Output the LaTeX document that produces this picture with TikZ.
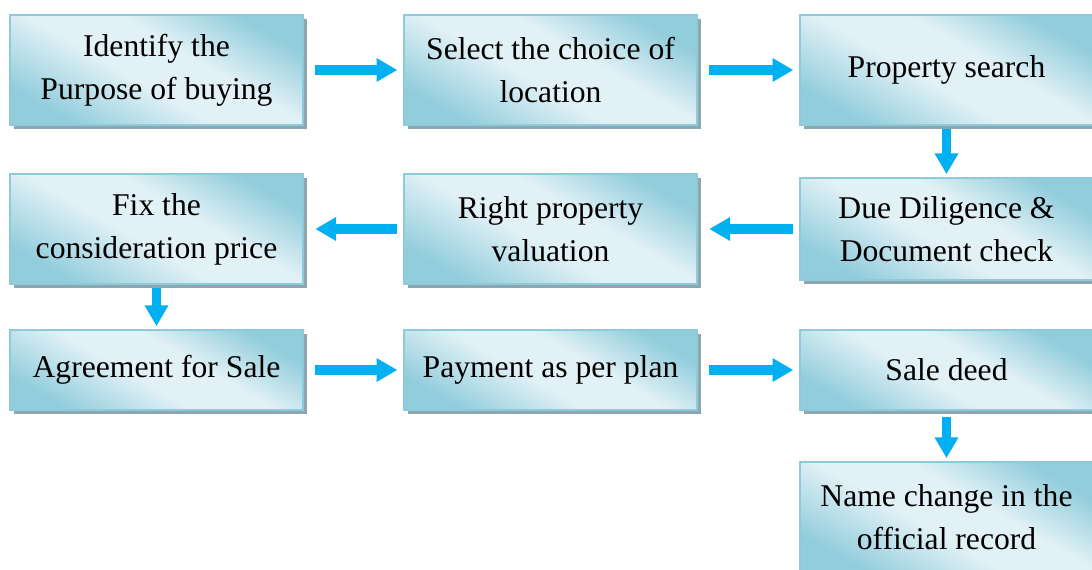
\documentclass[tikz,border=0pt]{standalone}
\usepackage{fontspec}
\setmainfont{Liberation Serif}
\usepackage{tikz}
\usetikzlibrary{arrows.meta,shadows}
\definecolor{boxdark}{HTML}{92CDDC}
\definecolor{boxlight}{HTML}{E2F1F6}
\definecolor{boxline}{HTML}{8CCBDC}
\definecolor{shadowgray}{HTML}{8EA6B0}
\definecolor{arrowblue}{HTML}{00B0F0}
\pgfdeclarehorizontalshading{boxshade}{100bp}{color(0bp)=(boxdark); color(25bp)=(boxdark); color(45bp)=(boxlight); color(58bp)=(boxlight); color(75bp)=(boxdark); color(100bp)=(boxdark)}
\tikzstyle{stage}=[rectangle, draw=boxline, line width=0.05cm, shading=boxshade, shading angle=60, minimum width=7.325cm, minimum height=2.75cm, align=center, font=\fontsize{22.5}{30.5}\selectfont, drop shadow={shadow xshift=0.09cm, shadow yshift=-0.09cm, opacity=1, fill=shadowgray}]
\tikzstyle{flow}=[draw=arrowblue, line width=0.24cm, -{Triangle[width=0.56cm, length=0.52cm]}]

\begin{document}
\begin{tikzpicture}[x=0.025cm, y=-0.025cm]
	\useasboundingbox (0,0) rectangle (1092,570);
	\node[stage] (b1) at (156.5,70){Identify the\\Purpose of buying};
	\node[stage] (b2) at (550.5,70){Select the choice of\\location};
	\node[stage] (b3) at (946.5,70){Property search};
	\node[stage, minimum height=2.55cm] (b4) at (946.5,229){Due Diligence \&\\Document check};
	\node[stage] (b5) at (550.5,229){Right property\\valuation};
	\node[stage] (b6) at (156.5,229){Fix the\\consideration price};
	\node[stage, minimum height=2cm] (b7) at (156.5,370){Agreement for Sale};
	\node[stage, minimum height=2cm] (b8) at (550.5,370){Payment as per plan};
	\node[stage, minimum height=2cm] (b9) at (946.5,370){Sale deed};
	\node[stage] (b10) at (946.5,517){Name change in the\\official record};
	\path[flow, shorten <=8, shorten >=4] (b1) -- (b2);
	\path[flow, shorten <=8, shorten >=4] (b2) -- (b3);
	\path[flow, shorten <=2, shorten >=2] (b3) -- (b4);
	\path[flow, shorten <=4, shorten >=8] (b4) -- (b5);
	\path[flow, shorten <=4, shorten >=8] (b5) -- (b6);
	\path[flow, shorten <=2, shorten >=2] (b6) -- (b7);
	\path[flow, shorten <=8, shorten >=4] (b7) -- (b8);
	\path[flow, shorten <=8, shorten >=4] (b8) -- (b9);
	\path[flow, shorten <=4, shorten >=2] (b9) -- (b10);
\end{tikzpicture}
\end{document}
